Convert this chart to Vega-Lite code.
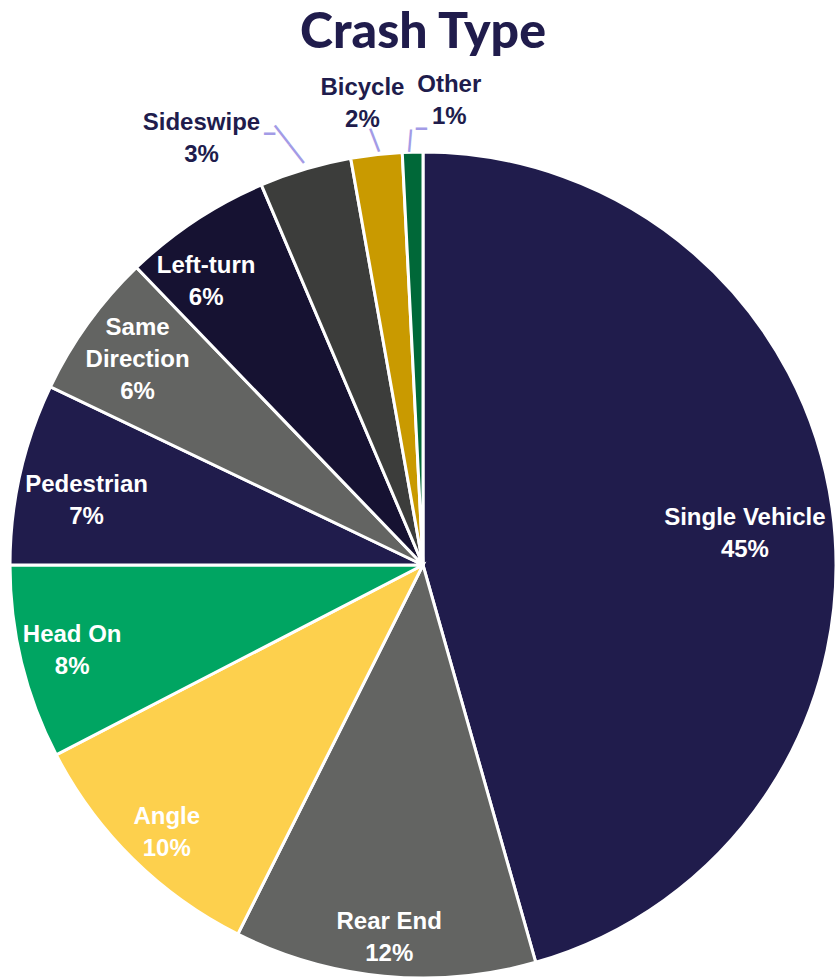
{
  "$schema": "https://vega.github.io/schema/vega-lite/v6.json",
  "width": 846,
  "height": 1130,
  "autosize": "none",
  "padding": 0,
  "background": "white",
  "title": {"text": "Crash Type", "fontSize": 50, "font": "Lato", "fontWeight": 900, "color": "#201c4c", "anchor": "middle", "frame": "group", "offset": 0, "dy": 58},
  "data": {"values": [
    {"order": 1, "type": "Single Vehicle", "share": 45.6, "label": "Single Vehicle\n45%"},
    {"order": 2, "type": "Rear End", "share": 11.8, "label": "Rear End\n12%"},
    {"order": 3, "type": "Angle", "share": 10.0, "label": "Angle\n10%"},
    {"order": 4, "type": "Head On", "share": 7.6, "label": "Head On\n8%"},
    {"order": 5, "type": "Pedestrian", "share": 7.1, "label": "Pedestrian\n7%"},
    {"order": 6, "type": "Same Direction", "share": 5.7, "label": "Same\nDirection\n6%"},
    {"order": 7, "type": "Left-turn", "share": 5.8, "label": "Left-turn\n6%"},
    {"order": 8, "type": "Sideswipe", "share": 3.6, "label": "Sideswipe\n3%"},
    {"order": 9, "type": "Bicycle", "share": 2.0, "label": "Bicycle\n2%"},
    {"order": 10, "type": "Other", "share": 0.8, "label": "Other\n1%"}
  ]},
  "encoding": {
    "theta": {"field": "share", "type": "quantitative", "stack": true},
    "order": {"field": "order", "type": "quantitative"}
  },
  "layer": [
    {
      "mark": {"type": "arc", "radius": 413, "stroke": "white", "strokeWidth": 3},
      "encoding": {
        "color": {"field": "type", "type": "nominal", "legend": null,
          "scale": {"domain": ["Single Vehicle", "Rear End", "Angle", "Head On", "Pedestrian", "Same Direction", "Left-turn", "Sideswipe", "Bicycle", "Other"],
                    "range": ["#201c4c", "#636462", "#fdd04d", "#00a562", "#201c4c", "#636462", "#161232", "#3c3d3b", "#c99a00", "#006838"]}}
      }
    },
    {
      "mark": {"type": "text", "radius": 436, "dx": -8, "dy": 5, "angle": 52, "font": "Liberation Sans", "fontWeight": "bold", "fontSize": 23.7, "align": "center", "baseline": "middle", "fill": "#a39be6"},
      "encoding": {"text": {"condition": {"test": "datum.type === 'Sideswipe'", "value": "——"}, "value": ""}}
    },
    {
      "mark": {"type": "text", "radius": 436, "dx": -29, "dy": -14.5, "font": "Liberation Sans", "fontWeight": "bold", "fontSize": 23, "align": "center", "baseline": "middle", "fill": "#a39be6"},
      "encoding": {"text": {"condition": {"test": "datum.type === 'Sideswipe'", "value": "–"}, "value": ""}}
    },
    {
      "mark": {"type": "text", "radius": 425, "dx": -2.5, "dy": -1, "angle": 69, "font": "Liberation Sans", "fontWeight": "bold", "fontSize": 24.7, "align": "center", "baseline": "middle", "fill": "#a39be6"},
      "encoding": {"text": {"condition": {"test": "datum.type === 'Bicycle'", "value": "—"}, "value": ""}}
    },
    {
      "mark": {"type": "text", "radius": 427, "dx": 2.7, "dy": 1, "angle": 95, "font": "Liberation Sans", "fontWeight": "bold", "fontSize": 22.4, "align": "center", "baseline": "middle", "fill": "#a39be6"},
      "encoding": {"text": {"condition": {"test": "datum.type === 'Other'", "value": "—"}, "value": ""}}
    },
    {
      "mark": {"type": "text", "radius": 427, "dx": 9.2, "dy": -10.1, "font": "Liberation Sans", "fontWeight": "bold", "fontSize": 23, "align": "center", "baseline": "middle", "fill": "#a39be6"},
      "encoding": {"text": {"condition": {"test": "datum.type === 'Other'", "value": "–"}, "value": ""}}
    },
    {
      "mark": {"type": "text", "radius": 325, "dy": -2, "font": "Liberation Sans", "fontWeight": "bold", "fontSize": 24, "lineHeight": 32, "lineBreak": "\n", "align": "center", "baseline": "middle", "fill": "white"},
      "encoding": {"text": {"condition": {"test": "datum.type === 'Single Vehicle'", "field": "label"}, "value": ""}}
    },
    {
      "mark": {"type": "text", "radius": 359, "font": "Liberation Sans", "fontWeight": "bold", "fontSize": 24, "lineHeight": 32, "lineBreak": "\n", "align": "center", "baseline": "middle", "fill": "white"},
      "encoding": {"text": {"condition": {"test": "datum.type === 'Rear End'", "field": "label"}, "value": ""}}
    },
    {
      "mark": {"type": "text", "radius": 359, "dx": -4, "dy": -3, "font": "Liberation Sans", "fontWeight": "bold", "fontSize": 24, "lineHeight": 32, "lineBreak": "\n", "align": "center", "baseline": "middle", "fill": "white"},
      "encoding": {"text": {"condition": {"test": "datum.type === 'Angle'", "field": "label"}, "value": ""}}
    },
    {
      "mark": {"type": "text", "radius": 358, "dx": -3, "dy": -15, "font": "Liberation Sans", "fontWeight": "bold", "fontSize": 24, "lineHeight": 32, "lineBreak": "\n", "align": "center", "baseline": "middle", "fill": "white"},
      "encoding": {"text": {"condition": {"test": "datum.type === 'Head On'", "field": "label"}, "value": ""}}
    },
    {
      "mark": {"type": "text", "radius": 345, "dy": -4, "font": "Liberation Sans", "fontWeight": "bold", "fontSize": 24, "lineHeight": 32, "lineBreak": "\n", "align": "center", "baseline": "middle", "fill": "white"},
      "encoding": {"text": {"condition": {"test": "datum.type === 'Pedestrian'", "field": "label"}, "value": ""}}
    },
    {
      "mark": {"type": "text", "radius": 352, "dy": -31, "font": "Liberation Sans", "fontWeight": "bold", "fontSize": 24, "lineHeight": 32, "lineBreak": "\n", "align": "center", "baseline": "middle", "fill": "white"},
      "encoding": {"text": {"condition": {"test": "datum.type === 'Same Direction'", "field": "label"}, "value": ""}}
    },
    {
      "mark": {"type": "text", "radius": 355, "dx": -21, "dy": -3, "font": "Liberation Sans", "fontWeight": "bold", "fontSize": 24, "lineHeight": 32, "lineBreak": "\n", "align": "center", "baseline": "middle", "fill": "white"},
      "encoding": {"text": {"condition": {"test": "datum.type === 'Left-turn'", "field": "label"}, "value": ""}}
    },
    {
      "mark": {"type": "text", "radius": 479, "dx": -85, "dy": 17, "font": "Liberation Sans", "fontWeight": "bold", "fontSize": 24, "lineHeight": 32, "lineBreak": "\n", "align": "center", "baseline": "middle", "fill": "#201c4c"},
      "encoding": {"text": {"condition": {"test": "datum.type === 'Sideswipe'", "field": "label"}, "value": ""}}
    },
    {
      "mark": {"type": "text", "radius": 466, "dx": -8, "dy": -14, "font": "Liberation Sans", "fontWeight": "bold", "fontSize": 24, "lineHeight": 32, "lineBreak": "\n", "align": "center", "baseline": "middle", "fill": "#201c4c"},
      "encoding": {"text": {"condition": {"test": "datum.type === 'Bicycle'", "field": "label"}, "value": ""}}
    },
    {
      "mark": {"type": "text", "radius": 466, "dx": 38, "dy": -14, "font": "Liberation Sans", "fontWeight": "bold", "fontSize": 24, "lineHeight": 32, "lineBreak": "\n", "align": "center", "baseline": "middle", "fill": "#201c4c"},
      "encoding": {"text": {"condition": {"test": "datum.type === 'Other'", "field": "label"}, "value": ""}}
    }
  ]
}
